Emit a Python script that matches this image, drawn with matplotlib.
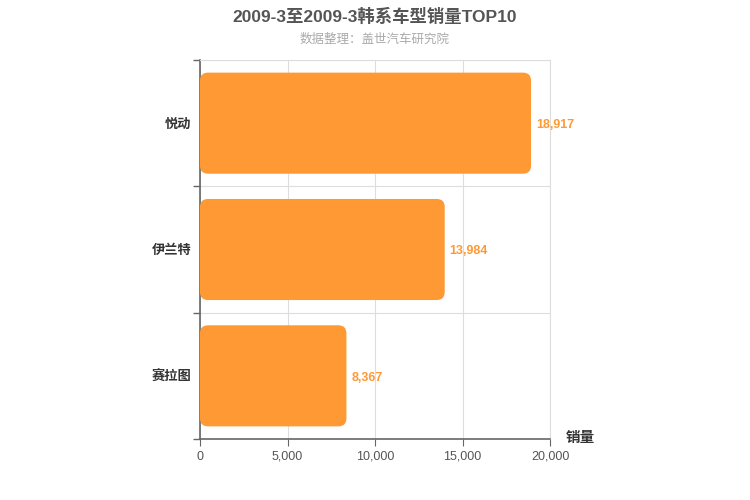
import matplotlib.pyplot as plt
from matplotlib.patches import FancyBboxPatch
from matplotlib.ticker import FuncFormatter, FixedLocator
import numpy as np

plt.rcParams['font.family'] = ['Liberation Sans', 'Noto Sans CJK SC', 'DejaVu Sans']

models = ['悦动', '伊兰特', '赛拉图']
sales = [18917, 13984, 8367]
xticks = [0, 5000, 10000, 15000, 20000]

bar_color = '#FF9933'

fig = plt.figure(figsize=(7.5, 5), dpi=100)
ax = fig.add_axes([200/750, 1-439/500, 350/750, 379/500])

n = len(models)
ax.set_xlim(0, 20000)
ax.set_ylim(n - 0.5, -0.5)

# rounded bars: radius ~8px in both directions
x_per_px = 20000 / 350
y_per_px = n / 379
r_px = 8
h = 0.8
for i, v in enumerate(sales):
    p = FancyBboxPatch((0, i - h/2), v, h,
                       boxstyle="round,pad=0,rounding_size=%f" % (r_px * x_per_px),
                       mutation_aspect=y_per_px / x_per_px,
                       fc=bar_color, ec='none', zorder=3)
    ax.add_patch(p)
    ax.text(v + 5 * x_per_px, i + 2 * y_per_px, format(v, ','), va='center', ha='left',
            color=bar_color, fontsize=9, fontweight='semibold', zorder=4,
            family='Liberation Sans')

ax.set_xticks(xticks)
ax.xaxis.set_major_formatter(FuncFormatter(lambda x, p: format(int(x), ',')))
ax.set_yticks(range(n))
ax.set_yticklabels(models, fontsize=9.5, fontweight='bold', color='#333333')
ax.yaxis.set_minor_locator(FixedLocator(np.arange(n + 1) - 0.5))
ax.tick_params(axis='y', which='major', length=0, pad=6)
ax.tick_params(axis='y', which='minor', length=5, color='#666666', width=1)
ax.tick_params(axis='x', length=5, color='#666666', labelsize=9, labelcolor='#555555')

ax.grid(True, which='minor', axis='y', color='#dddddd', lw=0.8, zorder=0)
ax.grid(True, which='major', axis='x', color='#dddddd', lw=0.8, zorder=0)
for s in ['top', 'right']:
    ax.spines[s].set_color('#dddddd')
    ax.spines[s].set_linewidth(0.8)
for s in ['left', 'bottom']:
    ax.spines[s].set_color('#666666')
    ax.spines[s].set_linewidth(1.2)
ax.set_axisbelow(True)

fig.text(0.5, 1 - 16/500, '2009-3至2009-3韩系车型销量TOP10', ha='center', va='center',
         fontsize=12.5, fontweight='bold', color='#555555')
fig.text(0.5, 1 - 40/500, '数据整理：盖世汽车研究院', ha='center', va='center',
         fontsize=9, color='#aaaaaa')
fig.text(580/750, 1 - 438/500, '销量', ha='center', va='center',
         fontsize=10.5, fontweight='bold', color='#333333')

fig.savefig('out.png', dpi=100)
